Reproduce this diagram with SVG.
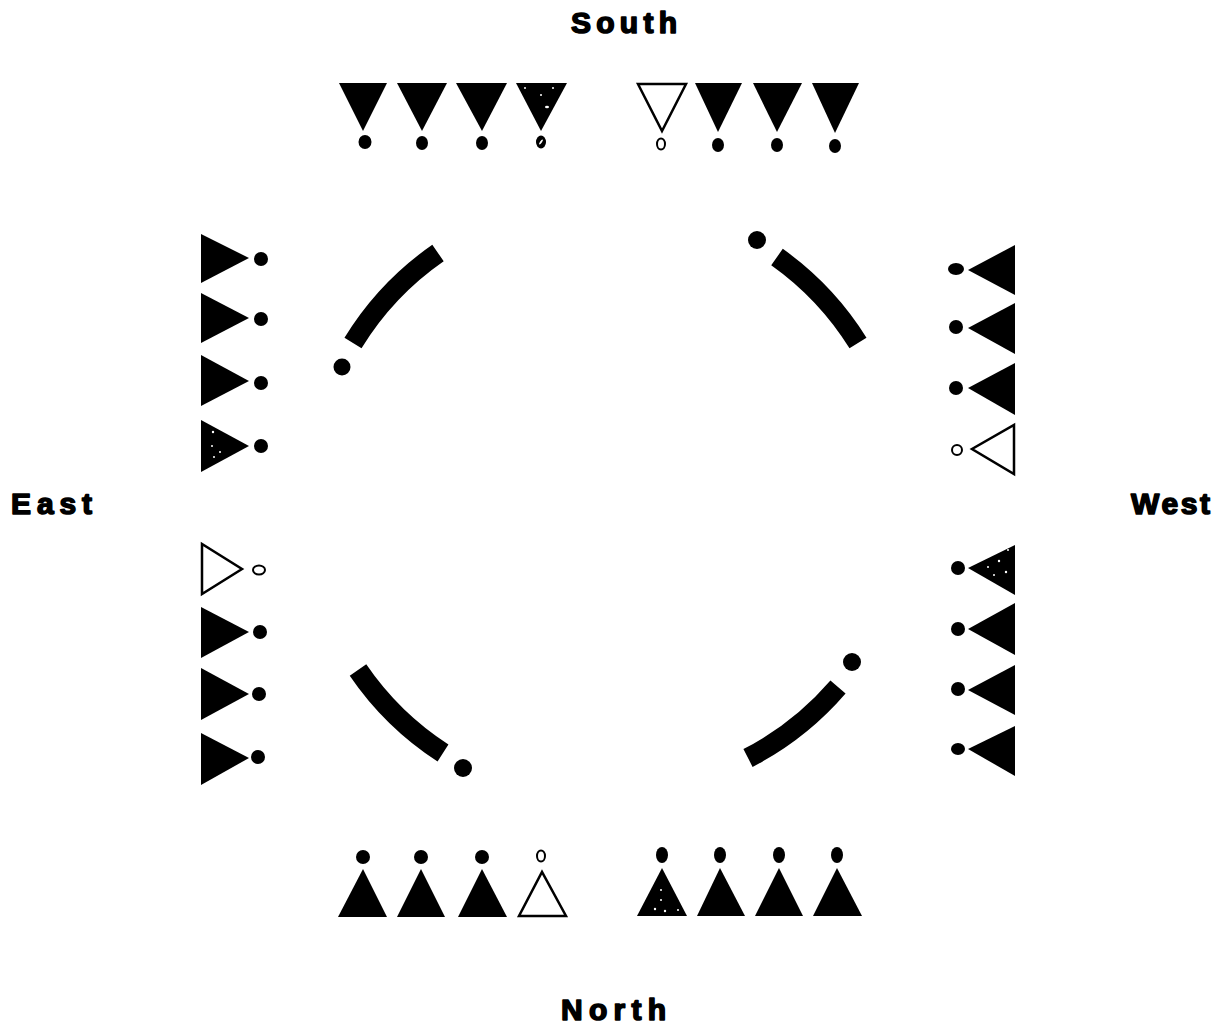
<svg xmlns="http://www.w3.org/2000/svg" width="1223" height="1025" viewBox="0 0 1223 1025">
<style>
.f{fill:#000}
.o{fill:#fff;stroke:#000;stroke-width:2.5;stroke-linejoin:miter}
.oc{fill:#fff;stroke:#000;stroke-width:2}
.sp{fill:#fff}
.arc{fill:none;stroke:#000;stroke-width:20;stroke-linecap:butt}
.lbl{font-family:"Liberation Sans",Arial,sans-serif;font-weight:bold;font-size:30px;fill:#000;stroke:#000;stroke-width:1.6;stroke-linejoin:round}
</style>
<rect width="1223" height="1025" fill="#fff"/>
<g id="labels">
<text class="lbl" x="571" y="33" textLength="106" lengthAdjust="spacing">South</text>
<text class="lbl" x="11" y="514" textLength="81" lengthAdjust="spacing">East</text>
<text class="lbl" x="1131" y="514" textLength="79" lengthAdjust="spacing">West</text>
<text class="lbl" x="561" y="1020" textLength="105" lengthAdjust="spacing">North</text>
</g>
<g id="connectors">
<path class="arc" d="M353,343 A300,300 0 0 1 438,253"/>
<path class="arc" d="M777,257 A300,300 0 0 1 858,343"/>
<path class="arc" d="M838,687 A300,300 0 0 1 748,758"/>
<path class="arc" d="M443,753 A300,300 0 0 1 358,670"/>
<circle class="f" cx="342" cy="367" r="8.5"/>
<circle class="f" cx="757" cy="240" r="9"/>
<circle class="f" cx="463" cy="768" r="9"/>
<circle class="f" cx="852" cy="662" r="9"/>
</g>
<!-- South row -->
<g id="s1"><polygon class="f" points="339,83 387,83 363,131"/><ellipse class="f" cx="365" cy="142" rx="6.5" ry="7"/></g>
<g id="s2"><polygon class="f" points="397,83 447,83 422,131"/><ellipse class="f" cx="422" cy="143" rx="6" ry="7"/></g>
<g id="s3"><polygon class="f" points="456,83 507,83 482,131"/><ellipse class="f" cx="482" cy="143" rx="6" ry="7"/></g>
<g id="s4"><polygon class="f" points="516,83 567,83 541,131"/><circle class="sp" cx="525" cy="88" r="1"/><circle class="sp" cx="553" cy="88" r="1"/><circle class="sp" cx="541" cy="95" r="1"/><ellipse class="sp" cx="547" cy="107" rx="2" ry="1.2"/><ellipse class="f" cx="541" cy="142" rx="5" ry="6.5"/><ellipse class="sp" cx="541" cy="142" rx="1" ry="3" transform="rotate(35 541 142)"/></g>
<g id="s5"><polygon class="o" points="638,84 686,84 662,131"/><ellipse class="oc" cx="661" cy="144" rx="4" ry="5.5"/></g>
<g id="s6"><polygon class="f" points="695,83 742,83 718,132"/><ellipse class="f" cx="718" cy="145" rx="6" ry="7"/></g>
<g id="s7"><polygon class="f" points="753,83 802,83 777,132"/><ellipse class="f" cx="777" cy="145" rx="6" ry="7"/></g>
<g id="s8"><polygon class="f" points="812,83 859,83 835,133"/><ellipse class="f" cx="835" cy="146" rx="6" ry="7"/></g>
<!-- East column -->
<g id="e1"><polygon class="f" points="201,234 201,283 249,258"/><circle class="f" cx="261" cy="259" r="7"/></g>
<g id="e2"><polygon class="f" points="201,293 201,343 249,318"/><circle class="f" cx="261" cy="319" r="7"/></g>
<g id="e3"><polygon class="f" points="201,355 201,406 249,381"/><circle class="f" cx="261" cy="383" r="7"/></g>
<g id="e4"><polygon class="f" points="201,420 201,472 249,446"/><circle class="sp" cx="213" cy="432" r="1.2"/><circle class="sp" cx="212" cy="446" r="1"/><circle class="sp" cx="220" cy="452" r="1"/><circle class="sp" cx="214" cy="457" r="1"/><circle class="f" cx="261" cy="446" r="7"/></g>
<g id="e5"><polygon class="o" points="202,544 202,594 242,569"/><ellipse class="oc" cx="259" cy="570" rx="6" ry="4.5"/></g>
<g id="e6"><polygon class="f" points="201,607 201,658 249,632"/><circle class="f" cx="260" cy="632" r="7"/></g>
<g id="e7"><polygon class="f" points="201,668 201,720 249,694"/><circle class="f" cx="259" cy="694" r="7"/></g>
<g id="e8"><polygon class="f" points="201,733 201,785 249,758"/><circle class="f" cx="258" cy="757" r="7"/></g>
<!-- West column -->
<g id="w1"><polygon class="f" points="1015,245 1015,295 968,270"/><ellipse class="f" cx="956" cy="269" rx="8" ry="6"/></g>
<g id="w2"><polygon class="f" points="1015,303 1015,354 968,328"/><circle class="f" cx="956" cy="327" r="7"/></g>
<g id="w3"><polygon class="f" points="1015,363 1015,415 968,388"/><circle class="f" cx="956" cy="388" r="7"/></g>
<g id="w4"><polygon class="o" points="1014,425 1014,474 972,449"/><circle class="oc" cx="957" cy="450" r="5"/></g>
<g id="w5"><polygon class="f" points="1015,545 1015,595 968,568"/><circle class="sp" cx="988" cy="567" r="1"/><circle class="sp" cx="999" cy="561" r="1.2"/><circle class="sp" cx="1006" cy="572" r="1.2"/><circle class="sp" cx="994" cy="575" r="1"/><circle class="sp" cx="1008" cy="550" r="1"/><circle class="f" cx="958" cy="568" r="7"/></g>
<g id="w6"><polygon class="f" points="1015,603 1015,655 968,629"/><circle class="f" cx="958" cy="629" r="7"/></g>
<g id="w7"><polygon class="f" points="1015,665 1015,715 968,690"/><circle class="f" cx="958" cy="689" r="7"/></g>
<g id="w8"><polygon class="f" points="1015,726 1015,776 968,749"/><ellipse class="f" cx="958" cy="749" rx="7" ry="6"/></g>
<!-- North row -->
<g id="n1"><polygon class="f" points="338,917 387,917 363,869"/><circle class="f" cx="363" cy="857" r="7"/></g>
<g id="n2"><polygon class="f" points="397,917 445,917 421,869"/><circle class="f" cx="421" cy="857" r="7"/></g>
<g id="n3"><polygon class="f" points="458,917 507,917 482,869"/><circle class="f" cx="482" cy="857" r="7"/></g>
<g id="n4"><polygon class="o" points="519,916 566,916 542,872"/><ellipse class="oc" cx="541" cy="856" rx="4" ry="5.5"/></g>
<g id="n5"><polygon class="f" points="637,916 687,916 662,868"/><circle class="sp" cx="661" cy="890" r="1"/><circle class="sp" cx="661" cy="900" r="1"/><circle class="sp" cx="655" cy="909" r="1.2"/><circle class="sp" cx="665" cy="911" r="1.2"/><circle class="sp" cx="678" cy="910" r="1"/><ellipse class="f" cx="662" cy="855" rx="6" ry="8"/></g>
<g id="n6"><polygon class="f" points="697,916 745,916 720,868"/><ellipse class="f" cx="720" cy="855" rx="6" ry="8"/></g>
<g id="n7"><polygon class="f" points="755,916 803,916 779,868"/><ellipse class="f" cx="779" cy="855" rx="6" ry="8"/></g>
<g id="n8"><polygon class="f" points="813,916 862,916 837,868"/><ellipse class="f" cx="837" cy="855" rx="6" ry="8"/></g>
</svg>
